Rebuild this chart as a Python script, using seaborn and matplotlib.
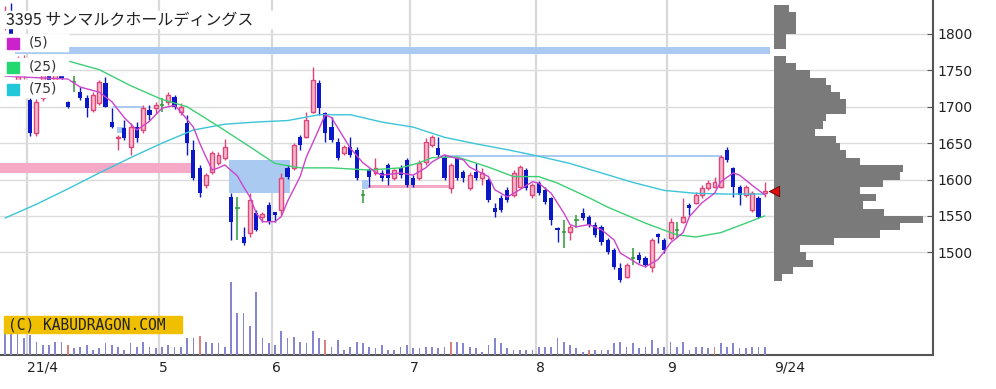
import numpy as np
import pandas as pd
import matplotlib
matplotlib.use("Agg")
import matplotlib.pyplot as plt
from matplotlib.patches import Rectangle
import seaborn as sns

# trading days shown on the chart (TSE holidays removed)
holidays = ["2021-04-29", "2021-05-03", "2021-05-04", "2021-05-05",
            "2021-07-22", "2021-07-23", "2021-08-09", "2021-09-20", "2021-09-23"]
dates = pd.bdate_range("2021-03-26", "2021-09-24").drop(pd.to_datetime(holidays))

opens = [1815, 1830, 1735, 1745, 1709, 1664, 1712, 1748, 1735, 1752,
         1707, 1734, 1720, 1712, 1696, 1705, 1733, 1679, 1657, 1671,
         1645, 1672, 1668, 1696, 1698, 1702, 1707, 1713, 1693, 1678,
         1641, 1616, 1592, 1610, 1623, 1630, 1576, 1561, 1521, 1527,
         1554, 1549, 1565, 1555, 1558, 1616, 1616, 1658, 1658, 1693,
         1733, 1691, 1672, 1652, 1637, 1644, 1641, 1579, 1613, 1609,
         1609, 1620, 1602, 1616, 1627, 1602, 1602, 1624, 1647, 1643,
         1631, 1588, 1630, 1610, 1588, 1610, 1602, 1599, 1561, 1575,
         1586, 1579, 1590, 1613, 1579, 1595, 1586, 1575, 1533, 1528,
         1528, 1544, 1554, 1548, 1538, 1535, 1517, 1503, 1478, 1466,
         1492, 1496, 1492, 1480, 1525, 1517, 1520, 1531, 1542, 1565,
         1568, 1579, 1588, 1590, 1590, 1641, 1616, 1590, 1579, 1558,
         1575, 1582]
highs = [1838, 1842, 1770, 1771, 1712, 1710, 1752, 1755, 1760, 1758,
         1708, 1742, 1727, 1716, 1720, 1737, 1741, 1698, 1661, 1682,
         1678, 1679, 1702, 1702, 1707, 1712, 1720, 1716, 1705, 1689,
         1654, 1620, 1609, 1639, 1638, 1656, 1581, 1576, 1535, 1581,
         1558, 1556, 1569, 1556, 1609, 1620, 1650, 1661, 1693, 1755,
         1737, 1693, 1686, 1657, 1648, 1658, 1645, 1586, 1616, 1630,
         1613, 1623, 1614, 1620, 1630, 1606, 1627, 1657, 1661, 1658,
         1634, 1623, 1631, 1613, 1610, 1623, 1616, 1602, 1568, 1579,
         1590, 1613, 1620, 1616, 1595, 1598, 1590, 1576, 1535, 1544,
         1538, 1551, 1561, 1551, 1541, 1538, 1520, 1506, 1485, 1485,
         1506, 1500, 1495, 1520, 1527, 1520, 1547, 1542, 1575, 1568,
         1583, 1592, 1600, 1603, 1634, 1645, 1617, 1592, 1593, 1584,
         1578, 1597]
lows = [1805, 1783, 1730, 1738, 1660, 1660, 1708, 1728, 1730, 1735,
        1698, 1720, 1709, 1686, 1693, 1702, 1699, 1671, 1641, 1654,
        1634, 1651, 1664, 1682, 1691, 1693, 1702, 1697, 1689, 1634,
        1599, 1576, 1589, 1607, 1620, 1627, 1517, 1517, 1510, 1521,
        1529, 1542, 1539, 1541, 1551, 1601, 1613, 1641, 1657, 1691,
        1689, 1652, 1652, 1627, 1634, 1631, 1599, 1568, 1590, 1606,
        1598, 1592, 1600, 1602, 1590, 1590, 1599, 1620, 1645, 1631,
        1599, 1581, 1599, 1596, 1586, 1599, 1592, 1569, 1549, 1555,
        1569, 1576, 1588, 1586, 1575, 1579, 1566, 1538, 1514, 1506,
        1517, 1533, 1544, 1535, 1521, 1510, 1497, 1477, 1459, 1464,
        1483, 1485, 1480, 1473, 1513, 1499, 1517, 1520, 1540, 1551,
        1566, 1575, 1586, 1588, 1588, 1624, 1576, 1565, 1576, 1555,
        1547, 1576]
closes = [1832, 1795, 1760, 1765, 1664, 1707, 1745, 1735, 1750, 1740,
          1700, 1734, 1712, 1698, 1716, 1734, 1700, 1672, 1659, 1657,
          1672, 1657, 1698, 1689, 1702, 1702, 1716, 1700, 1700, 1650,
          1602, 1581, 1606, 1636, 1634, 1645, 1542, 1561, 1513, 1572,
          1531, 1553, 1542, 1551, 1602, 1604, 1647, 1647, 1682, 1737,
          1698, 1664, 1654, 1630, 1644, 1634, 1602, 1579, 1604, 1616,
          1602, 1602, 1613, 1606, 1592, 1592, 1623, 1652, 1658, 1634,
          1602, 1620, 1602, 1602, 1606, 1602, 1609, 1572, 1555, 1558,
          1572, 1609, 1617, 1588, 1592, 1581, 1569, 1544, 1531, 1528,
          1535, 1544, 1547, 1538, 1524, 1514, 1500, 1480, 1462, 1483,
          1492, 1489, 1483, 1517, 1521, 1503, 1542, 1531, 1549, 1561,
          1579, 1588, 1595, 1597, 1631, 1627, 1590, 1579, 1590, 1581,
          1549, 1584]
volumes = [63, 68, 68, 50, 60, 40, 30, 30, 40, 40,
           30, 20, 25, 30, 15, 20, 35, 30, 25, 15,
           35, 25, 40, 25, 20, 25, 30, 25, 25, 50,
           50, 58, 40, 35, 35, 25, 220, 125, 125, 88,
           190, 50, 35, 30, 73, 50, 55, 40, 35, 73,
           50, 45, 25, 45, 15, 25, 40, 35, 25, 20,
           30, 15, 15, 25, 30, 20, 20, 25, 25, 20,
           25, 40, 40, 35, 25, 20, 10, 30, 50, 35,
           20, 15, 15, 15, 15, 25, 25, 25, 50, 40,
           30, 20, 10, 15, 15, 15, 15, 35, 40, 25,
           35, 20, 25, 45, 20, 25, 40, 25, 40, 15,
           25, 25, 20, 25, 35, 25, 35, 20, 20, 25,
           25, 25]
vol_red_days = [10, 31, 51, 71, 93, 113]

# moving averages (index, price)
ma5_idx = [0, 10, 12, 15, 17, 19, 21, 23, 25, 27, 28, 30, 31, 32, 33, 34, 35, 37,
           38, 39, 40, 41, 43, 44, 45, 47, 48, 49, 51, 52, 54, 55, 57, 59, 60, 63,
           65, 67, 68, 70, 71, 73, 74, 77, 78, 80, 82, 84, 85, 87, 89, 90, 91, 93,
           95, 97, 98, 101, 102, 104, 105, 106, 108, 109, 111, 113, 114, 116, 117,
           119, 121]
ma5 = [1742, 1738, 1727, 1720, 1707, 1685, 1668, 1680, 1698, 1702, 1693, 1672,
       1650, 1631, 1613, 1616, 1620, 1605, 1590, 1576, 1554, 1542, 1542, 1549,
       1570, 1604, 1631, 1650, 1689, 1685, 1657, 1643, 1623, 1610, 1606, 1609,
       1606, 1616, 1624, 1634, 1631, 1627, 1617, 1604, 1586, 1576, 1586, 1597,
       1595, 1581, 1554, 1538, 1535, 1538, 1531, 1517, 1499, 1483, 1480, 1490,
       1501, 1513, 1527, 1549, 1568, 1581, 1597, 1609, 1606, 1592, 1579]
ma25_idx = [10, 15, 20, 25, 29, 34, 39, 43, 47, 52, 58, 63, 66, 68, 72, 77, 81,
            85, 88, 93, 96, 102, 107, 110, 114, 118, 121]
ma25 = [1763, 1751, 1729, 1710, 1700, 1673, 1645, 1622, 1616, 1616, 1613, 1616,
        1623, 1630, 1631, 1617, 1604, 1604, 1595, 1575, 1562, 1540, 1524, 1521,
        1527, 1540, 1550]
ma75_idx = [0, 5, 10, 15, 20, 25, 30, 35, 40, 45, 50, 55, 60, 65, 70, 75, 80,
            85, 90, 95, 100, 105, 110, 115, 121]
ma75 = [1547, 1566, 1587, 1609, 1630, 1650, 1668, 1676, 1679, 1681, 1689, 1689,
        1679, 1672, 1658, 1649, 1641, 1632, 1622, 1609, 1596, 1585, 1581, 1580,
        1580]

# price gaps (窓) still open on the chart
gap_start = [-0.8, 1.6, 17.2, 17.8, 35.7, 56.9, 57.8, 69.3]
gap_end = [29.7, 121.8, 22.0, 19.1, 45.4, 57.8, 71.2, 114.2]
gap_low = [1609, 1773, 1698, 1664, 1581, 1587, 1589, 1631]
gap_high = [1623, 1782, 1701, 1672, 1627, 1600, 1592, 1634]
gap_up = [True, False, False, False, False, False, True, False]

# volume by price
prof_price = np.arange(1465, 1845, 10)
prof_vol = [8, 19, 39, 32, 26, 60, 106, 126, 149, 110, 89, 102, 86, 109, 126,
            129, 86, 72, 66, 62, 41, 49, 52, 72, 72, 66, 57, 52, 36, 22, 12, 0,
            12, 12, 22, 22, 22, 15]

sns.set_style("white")
plt.rcParams['font.family'] = ['DejaVu Sans', 'Noto Sans CJK JP']

UP_EDGE, UP_FILL = '#e0457a', '#f6b8ca'
DOWN = '#0a18c8'
DOJI = '#2e9a3a'
GAP_BLUE, GAP_PINK = '#aacaf2', '#f4aac6'

W, H = 996, 389
fig = plt.figure(figsize=(W / 100, H / 100), dpi=100)
rect = [0, 34 / H, 933 / W, 355 / H]
ax = fig.add_axes(rect)
ax.set_xlim(-0.8, 147.8)
ax.set_ylim(1358.8, 1846.7)

n = len(dates)
x = np.arange(n)
o, h, l, c = (np.array(a, dtype=float) for a in (opens, highs, lows, closes))

# gaps
for s, e, lo, hi, upg in zip(gap_start, gap_end, gap_low, gap_high, gap_up):
    ax.fill_between([s, e], lo, hi, color=GAP_PINK if upg else GAP_BLUE,
                    lw=0, zorder=1)

# candles
up = c > o
dn = c < o
dj = c == o
ax.vlines(x[up], l[up], h[up], color=UP_EDGE, lw=1, zorder=3)
ax.bar(x[up], (c - o)[up], bottom=o[up], width=0.62, facecolor=UP_FILL,
       edgecolor=UP_EDGE, lw=1, zorder=4)
ax.vlines(x[dn], l[dn], h[dn], color=DOWN, lw=1, zorder=3)
ax.bar(x[dn], (o - c)[dn], bottom=c[dn], width=0.66, color=DOWN, lw=0, zorder=4)
ax.vlines(x[dj], l[dj], h[dj], color=DOJI, lw=1.1, zorder=3)
ax.hlines(c[dj], x[dj] - 0.35, x[dj] + 0.35, color=DOJI, lw=1.1, zorder=4)

# moving averages
sns.lineplot(x=ma75_idx, y=ma75, ax=ax, color='#3cc4d8', lw=1, zorder=5)
sns.lineplot(x=ma25_idx, y=ma25, ax=ax, color='#3ccf74', lw=1, zorder=5)
sns.lineplot(x=ma5_idx, y=ma5, ax=ax, color='#cc44cc', lw=1, zorder=6)

# volume profile
prof_left = n + 0.5
ax.barh(prof_price, np.array(prof_vol) / 6.28, left=prof_left, height=10,
        color='#7a7a7a', lw=0, zorder=2)
ax.scatter([prof_left], [closes[-1]], marker='<', s=55, color='#e01010',
           edgecolors='#600000', linewidths=0.6, zorder=7)

# grid / month boundaries
ax.set_yticks(np.arange(1500, 1801, 50))
ax.yaxis.grid(True, color='#dcdcdc', lw=1)
ax.set_axisbelow(True)
month_pos = [i - 0.5 for i in range(1, n) if dates[i].month != dates[i - 1].month]
for b in month_pos:
    ax.axvline(b, color='#d9d9d9', lw=1.6, zorder=0)
labels = ['21/4'] + [str(dates[int(b + 0.5)].month) for b in month_pos[1:]]
ax.set_xticks(month_pos + [prof_left])
ax.set_xticklabels(labels + [f"{dates[-1].month}/{dates[-1].day}"])
for t in ax.get_xticklabels():
    t.set_ha('left')

ax.yaxis.tick_right()
ax.tick_params(axis='y', direction='in', length=4, pad=3, labelsize=10,
               color='#555555', labelcolor='#222222')
ax.tick_params(axis='x', length=0, pad=4, labelsize=10, labelcolor='#222222')
for side in ('top', 'left'):
    ax.spines[side].set_visible(False)
for side in ('right', 'bottom'):
    ax.spines[side].set_color('#555555')
    ax.spines[side].set_linewidth(1.5)

# volume bars
vax = fig.add_axes(rect, sharex=ax)
vax.set_ylim(0, 1065)
vcol = ['#d98080' if i in vol_red_days else '#8585d0' for i in range(n)]
vax.bar(x, volumes, width=0.28, color=vcol, lw=0)
vax.axis('off')
vax.patch.set_alpha(0)


def fx(px):
    return px / W


def fy(py):
    return 1 - py / H


# title and legend
fig.add_artist(Rectangle((0, fy(28)), fx(280), 17 / H,
                         transform=fig.transFigure, color='white', zorder=8))
fig.text(fx(6), fy(20), '3395 サンマルクホールディングス', fontsize=11.5,
         va='center', color='#222222', zorder=9,
         family=['Noto Sans CJK JP', 'DejaVu Sans'])
legend = [('(5)', '#cc22cc', 43), ('(25)', '#22d870', 67), ('(75)', '#22c8d8', 89)]
for txt, col, yc in legend:
    fig.add_artist(Rectangle((0, fy(yc + 8)), fx(68), 17 / H,
                             transform=fig.transFigure, color='white', zorder=8))
    fig.add_artist(Rectangle((fx(7), fy(yc + 5.5)), fx(12), 11 / H,
                             transform=fig.transFigure, color=col, zorder=9))
    fig.text(fx(29), fy(yc), txt, fontsize=10, va='center', color='#333333',
             zorder=9)

# watermark
fig.add_artist(Rectangle((fx(4), fy(333)), fx(178), 17 / H,
                         transform=fig.transFigure, color='#f0c000', zorder=8))
fig.text(fx(8), fy(324.5), '(C) KABUDRAGON.COM', fontsize=10.5, va='center',
         family='DejaVu Sans Mono', color='#222222', zorder=9)

fig.savefig('out.png', dpi=100, facecolor='white')
